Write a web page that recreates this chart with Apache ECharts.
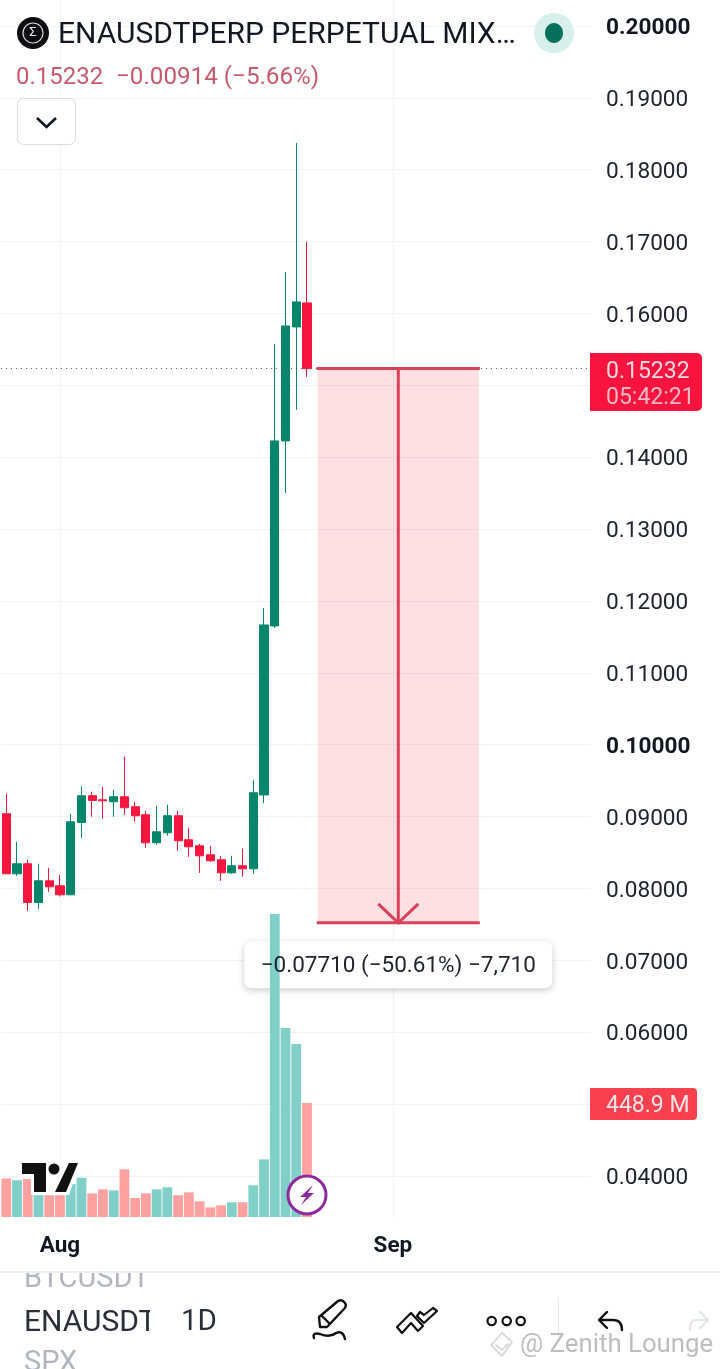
<!DOCTYPE html>
<html><head><meta charset="utf-8">
<style>html,body{margin:0;padding:0;background:#fff}#c{width:720px;height:1369px}</style>
<script src="https://cdn.jsdelivr.net/npm/echarts@6/dist/echarts.min.js"></script>
</head><body><div id="c"></div>
<script>
const dates = ['07-27','07-28','07-29','07-30','07-31','08-01','08-02','08-03','08-04','08-05','08-06','08-07','08-08','08-09','08-10','08-11','08-12','08-13','08-14','08-15','08-16','08-17','08-18','08-19','08-20','08-21','08-22','08-23','08-24','08-25','08-26','08-27','08-28','08-29','08-30','08-31','09-01','09-02','09-03','09-04','09-05','09-06','09-07','09-08','09-09','09-10','09-11','09-12','09-13','09-14','09-15','09-16','09-17','09-18','09-19'];
// [open, close, low, high]
const ohlc = [
[0.0904,0.08204,0.08204,0.0932],
[0.08204,0.08344,0.08176,0.0865],
[0.08344,0.07805,0.07689,0.08399],
[0.07805,0.08107,0.07717,0.08344],
[0.08107,0.08023,0.07954,0.08288],
[0.08037,0.07912,0.07889,0.0819],
[0.07912,0.08928,0.07912,0.0904],
[0.08919,0.0929,0.08705,0.0942],
[0.0929,0.09225,0.08998,0.09346],
[0.09234,0.0922,0.0897,0.09416],
[0.09207,0.09276,0.08998,0.09374],
[0.09276,0.09123,0.09025,0.09833],
[0.09137,0.09012,0.08928,0.09207],
[0.09026,0.08636,0.08566,0.09081],
[0.08636,0.08789,0.08608,0.09151],
[0.08775,0.09012,0.08733,0.09165],
[0.09012,0.08664,0.08524,0.09081],
[0.08678,0.0858,0.08441,0.08845],
[0.08594,0.08455,0.08218,0.08622],
[0.08469,0.08385,0.08371,0.08594],
[0.08399,0.08218,0.08107,0.08455],
[0.08218,0.08316,0.08204,0.08455],
[0.08316,0.08274,0.08163,0.08557],
[0.08274,0.09332,0.08204,0.09513],
[0.09301,0.11666,0.09189,0.11903],
[0.11652,0.14226,0.11624,0.15576],
[0.14226,0.15826,0.13503,0.16577],
[0.15812,0.1616,0.14657,0.18372],
[0.16146,0.15232,0.15116,0.16995]
];
const volumes = [152,145,150,86,86,86,130,155,93,109,105,188,75,93,109,117,86,97,62,38,46,58,58,125,227,1194,745,682,448.9];
const priceTicks = [0.04,0.05,0.06,0.07,0.08,0.09,0.10,0.11,0.12,0.13,0.14,0.15,0.16,0.17,0.18,0.19,0.20];
const priceLabels = [0.04,0.06,0.07,0.08,0.09,0.10,0.11,0.12,0.13,0.14,0.16,0.17,0.18,0.19,0.20];
const boldPrices = [0.10,0.20];
const monthLabels = {'08-01':'Aug','09-01':'Sep'};
const lastPrice = 0.15232;
const measureStart = 29, measureEnd = 44, measureTop = 0.15232, measureBottom = 0.07522;
const UP='#05866B', DOWN='#F5163F', VUP='#80CFC8', VDOWN='#FFA1A1', GRID='#F1F2F4';
const FONT='Roboto, sans-serif';

const chart = echarts.init(document.getElementById('c'),null,{renderer:'canvas'});
function txt(x,y,text,size,fill,extra){
  return {type:'text',z:100,style:{x,y,text,font:(extra&&extra.weight||'400')+' '+size+'px '+FONT,fill,align:extra&&extra.align||'left',verticalAlign:'middle'}};
}
const graphics = [
  // header
  {type:'circle',z:100,shape:{cx:33,cy:33,r:16},style:{fill:'#0d0d0f'}},
  {type:'circle',z:100,shape:{cx:33,cy:33,r:10},style:{fill:'none',stroke:'#d8d8d8',lineWidth:1.2}},
  txt(33,33,'Σ',13,'#e8e8e8',{align:'center'}),
  txt(58,35,'ENAUSDTPERP PERPETUAL MIX…',30,'#131722'),
  txt(16,78,'0.15232',24,'#C85A6E'),
  txt(116,78,'−0.00914 (−5.66%)',24.2,'#C85A6E'),
  {type:'rect',z:100,shape:{x:17.5,y:98.5,width:58,height:46,r:6},style:{fill:'#fff',stroke:'#DADCE0',lineWidth:1}},
  {type:'polyline',z:100,shape:{points:[[37,118],[46.5,127],[56,118]]},style:{stroke:'#131722',lineWidth:2.6,fill:'none'}},
  {type:'circle',z:100,shape:{cx:554,cy:33,r:20},style:{fill:'#D7F0EC'}},
  {type:'ellipse',z:100,shape:{cx:554,cy:33,rx:9,ry:10},style:{fill:'#06705C'}},
  // price badge
  {type:'rect',z:100,shape:{x:590,y:353,width:112,height:58,r:[0,5,5,0]},style:{fill:'#F8143F'}},
  txt(606,372,'0.15232',23,'#FFD9DF'),
  txt(606,398,'05:42:21',23,'#FFB9C5'),
  // volume badge
  {type:'rect',z:100,shape:{x:590,y:1088,width:107,height:32,r:[0,4,4,0]},style:{fill:'#F9404E'}},
  txt(606,1106,'448.9 M',23,'#FFE4E6'),
  // TV logo
  {type:'polygon',z:99,shape:{points:[[19,1160],[81,1160],[69,1195],[31,1195],[31,1177],[19,1177]]},style:{fill:'#fff'}},
  {type:'polygon',z:100,shape:{points:[[22,1163],[46,1163],[46,1192],[34,1192],[34,1174],[22,1174]]},style:{fill:'#111'}},
  {type:'polygon',z:100,shape:{points:[[55,1192],[69,1163],[78,1163],[66,1192]]},style:{fill:'#111'}},
  {type:'circle',z:100,shape:{cx:54,cy:1169,r:5.5},style:{fill:'#111'}},
  // lightning
  {type:'circle',z:100,shape:{cx:307,cy:1195,r:19},style:{fill:'#fff',stroke:'#8E2A9E',lineWidth:3}},
  {type:'polygon',z:100,shape:{points:[[313,1185],[300,1197],[306,1197],[301,1205],[314,1193],[308,1193]]},style:{fill:'#8E2A9E'}},
  // footer
  txt(24,1280,'BTCUSDT',29,'#B2B5BE'),
  {type:'rect',z:101,shape:{x:0,y:1258,width:200,height:13},style:{fill:'#fff'}},
  {type:'rect',z:101,shape:{x:150,y:1272,width:60,height:24},style:{fill:'#fff'}},
  {type:'rect',z:102,shape:{x:0,y:1271,width:720,height:2},style:{fill:'#EEEFF1'}},
  txt(24,1323,'ENAUSDT',30,'#2A2E39',{weight:'400'}),
  {type:'rect',z:101,shape:{x:150,y:1300,width:24,height:40},style:{fill:'#fff'}},
  txt(181,1323,'1D',29.5,'#2A2E39',{weight:'400'}),
  txt(24,1364,'SPX',29,'#B2B5BE'),
  {type:'rect',z:100,shape:{x:558,y:1298,width:1,height:42},style:{fill:'#E8E9EB'}},
  txt(520,1346,'@ Zenith Lounge',25.8,'#BDBDBD')
];
// toolbar icons, drawn through a no-coordinate custom series
const icons = [
  {d:'M320 1327 L319 1317 L338 1301 Q342 1299 345 1303 Q347 1306 344 1309 L327 1327 Z M322 1316 L330 1324',c:'#111',w:2.4},
  {d:'M314 1338 Q312 1332 320 1334 Q330 1338 336 1333 Q343 1330 345 1339',c:'#111',w:2.4},
  {d:'M397 1327 L411 1313 L423 1326 L418 1331 L411 1323 L402 1333 Z M417 1316 L424 1323 L437 1311 L433 1308 L424 1315 L420 1312 Z',c:'#111',w:2.2},
  {d:'M487.5 1321 a4.2 4.2 0 1 0 8.4 0 a4.2 4.2 0 1 0 -8.4 0 M502.5 1321 a4.2 4.2 0 1 0 8.4 0 a4.2 4.2 0 1 0 -8.4 0 M516.5 1321 a4.2 4.2 0 1 0 8.4 0 a4.2 4.2 0 1 0 -8.4 0',c:'#111',w:2.2},
  {d:'M607 1312 L599 1320 L607 1328 M600 1320 H613 Q622 1320 622 1330',c:'#111',w:2.4},
  {d:'M700 1312 L708 1320 L700 1328 M707 1320 H695 Q690 1320 690 1330',c:'#E3E4E6',w:2.2},
  {d:'M502 1333 L512 1342 L502 1356 L491 1345 Z M496 1345 L502 1350 L508 1344',c:'#D9D9D9',w:1.8}
];

const option = {
  animation:false,
  backgroundColor:'#fff',
  graphic:{elements:graphics},
  grid:{left:0.9,top:0,width:590.7,height:1217,containLabel:false},
  xAxis:{type:'category',data:dates,boundaryGap:true,
    axisLine:{show:false},axisTick:{show:false},splitLine:{show:false},
    axisLabel:{margin:18,fontFamily:FONT,fontSize:22.5,fontWeight:'bold',color:'#131722',
      interval:(i,v)=>!!monthLabels[v],formatter:v=>monthLabels[v]||''}},
  yAxis:[{type:'value',position:'right',min:0.0343,max:0.2036,scale:true,
      axisLine:{show:false},
      axisTick:{show:false,customValues:priceTicks},
      splitLine:{show:true,lineStyle:{color:GRID,width:1}},
      axisLabel:{customValues:priceLabels,margin:14.5,padding:[5,0,0,0],fontFamily:FONT,fontSize:22.6,color:'#1E222D',
        formatter:v=>{const s=v.toFixed(5);return boldPrices.some(b=>Math.abs(b-v)<1e-9)?'{b|'+s+'}':s;},
        rich:{b:{fontFamily:FONT,fontSize:22.6,fontWeight:'bold',color:'#131722'}}}},
    {type:'value',position:'right',min:0,max:4795,show:false,splitLine:{show:false}}],
  series:[
    {type:'line',data:[],z:1,silent:true,
      markLine:{z:1,silent:true,symbol:'none',animation:false,label:{show:false},
        lineStyle:{color:GRID,width:1,type:'solid'},
        data:[{xAxis:'08-01'},{xAxis:'09-01'}]}},
    {type:'custom',z:2,silent:true,clip:false,data:[[measureStart]],
      renderItem:(p,api)=>{
        const a=api.coord([measureStart,measureTop]),b=api.coord([measureEnd,measureBottom]);
        return {type:'group',children:[
          {type:'rect',shape:{x:a[0],y:a[1],width:b[0]-a[0],height:b[1]-a[1]},style:{fill:'rgba(247,70,90,0.17)'}}
        ]};
      }},
    {type:'custom',z:3,silent:true,clip:false,data:[[measureStart]],
      renderItem:(p,api)=>{
        const a=api.coord([measureStart,measureTop]),b=api.coord([measureEnd,measureBottom]);
        const mx=(a[0]+b[0])/2;
        return {type:'rect',shape:{x:mx-154,y:b[1]+18.5,width:308,height:47,r:7},
          style:{fill:'#fff',shadowBlur:7,shadowOffsetY:2,shadowColor:'rgba(0,0,0,0.22)'}};
      }},
    {type:'bar',yAxisIndex:1,z:4,barWidth:9.8,silent:true,
      data:volumes.map((v,i)=>({value:v,itemStyle:{color:ohlc[i][1]>=ohlc[i][0]?VUP:VDOWN}}))},
    {type:'candlestick',z:5,silent:true,barWidth:8.6,data:ohlc,
      itemStyle:{color:UP,color0:DOWN,borderColor:UP,borderColor0:DOWN,borderWidth:1,
        borderColorDoji:DOWN},
      markLine:{z:6,silent:true,symbol:'none',animation:false,precision:5,label:{show:false},
        lineStyle:{color:'#555',width:1,type:[1,4]},
        data:[{yAxis:lastPrice}]}},
    {type:'custom',z:7,silent:true,clip:false,data:[[measureStart]],
      renderItem:(p,api)=>{
        const a=api.coord([measureStart,measureTop]),b=api.coord([measureEnd,measureBottom]);
        const mx=(a[0]+b[0])/2;
        const ls={stroke:'#D9405A',lineWidth:3,fill:'none'};
        return {type:'group',children:[
          {type:'line',shape:{x1:a[0]-1,y1:a[1],x2:b[0]+1,y2:a[1]},style:ls},
          {type:'line',shape:{x1:a[0]-1,y1:b[1],x2:b[0]+1,y2:b[1]},style:ls},
          {type:'line',shape:{x1:mx,y1:a[1],x2:mx,y2:b[1]},style:ls},
          {type:'polyline',shape:{points:[[mx-20,b[1]-19],[mx,b[1]],[mx+20,b[1]-19]]},style:ls},
          {type:'text',style:{x:mx,y:b[1]+44,text:'−0.07710 (−50.61%) −7,710',font:'400 22.5px '+FONT,fill:'#1E222D',align:'center',verticalAlign:'middle'}}
        ]};
      }},
    {type:'custom',coordinateSystem:'none',z:103,silent:true,data:[[0]],
      renderItem:()=>({type:'group',children:icons.map(o=>({type:'path',shape:{pathData:o.d},style:{stroke:o.c,lineWidth:o.w,fill:'none',lineCap:'round',lineJoin:'round'}}))})}
  ]
};
chart.setOption(option);
</script></body></html>
